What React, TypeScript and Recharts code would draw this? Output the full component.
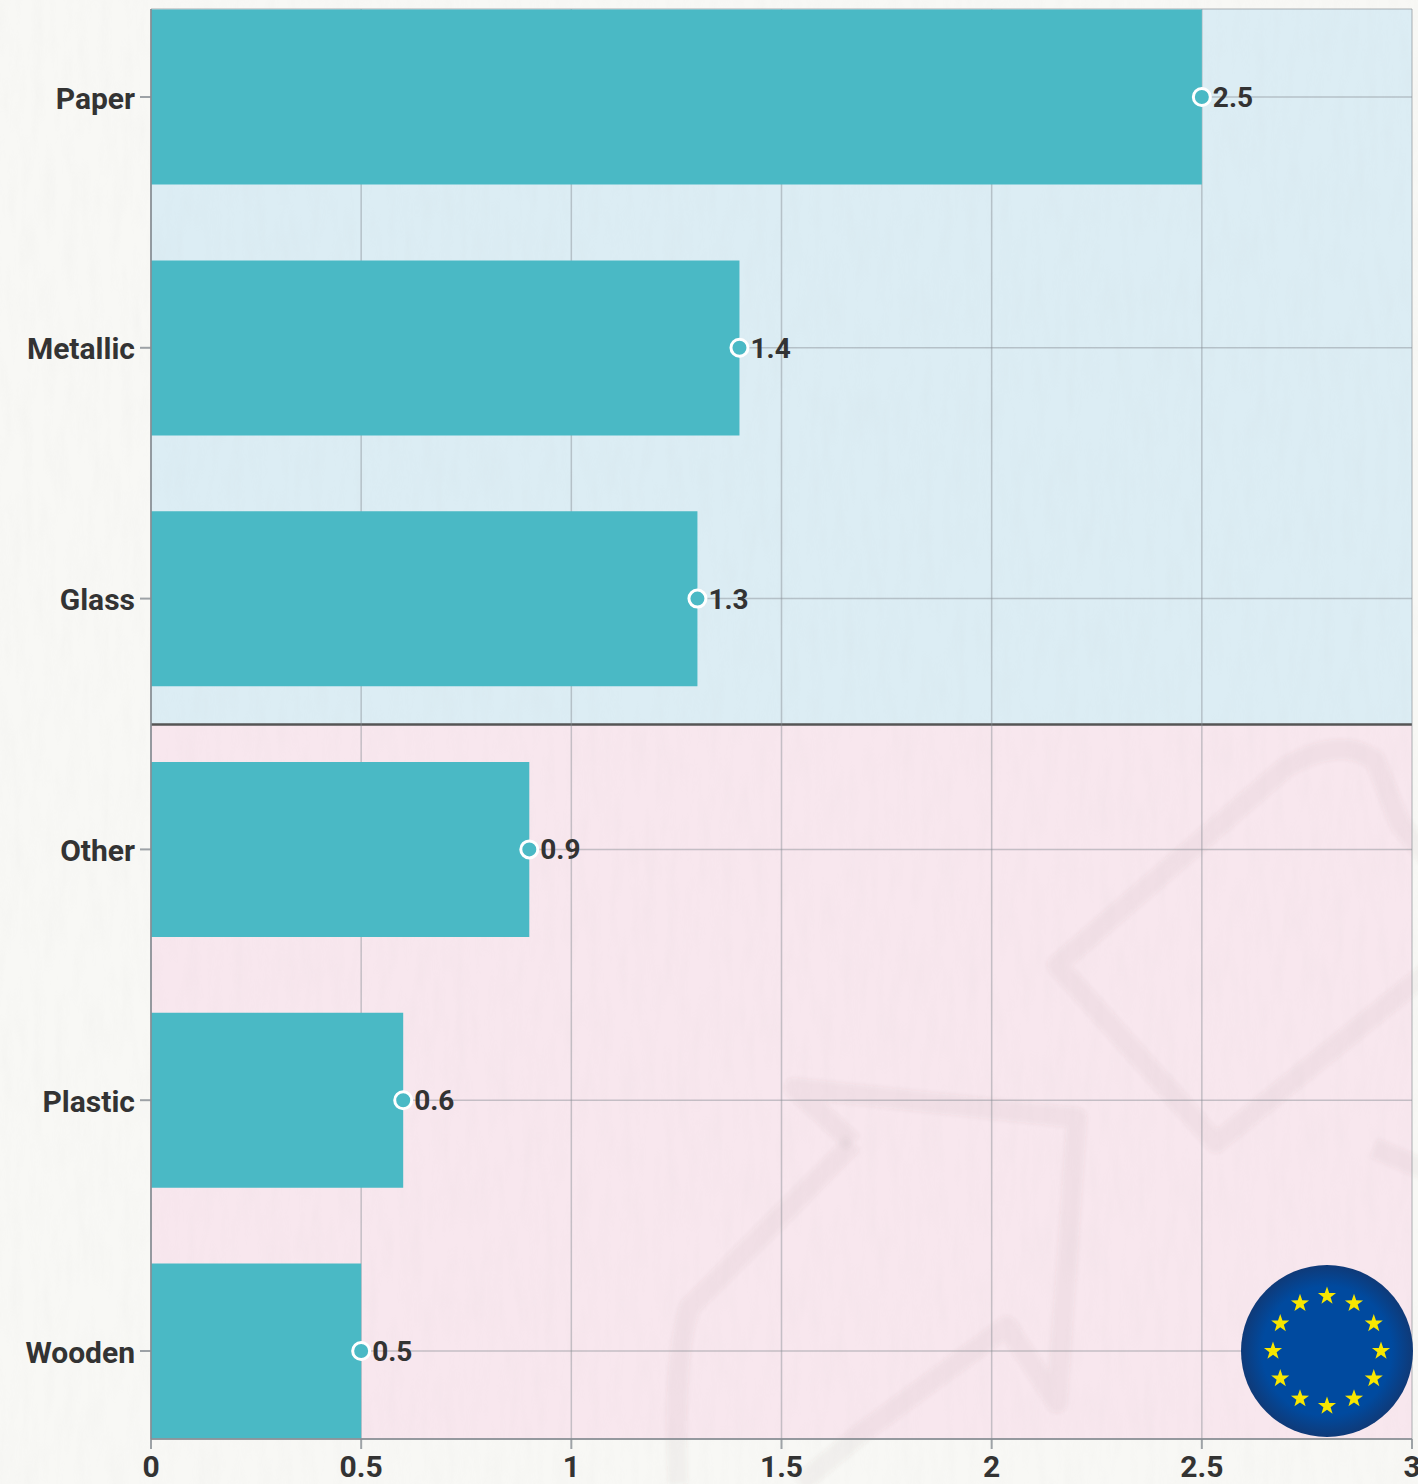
import { ComposedChart, Bar, Line, XAxis, YAxis, CartesianGrid, LabelList } from 'recharts'

const categories = ['Paper', 'Metallic', 'Glass', 'Other', 'Plastic', 'Wooden']
const values = [2.5, 1.4, 1.3, 0.9, 0.6, 0.5]
const xTicks = [0, 0.5, 1, 1.5, 2, 2.5, 3]

const rows = categories.map((name, i) => ({ name, value: values[i] }))

const FONT = 'Roboto, sans-serif'
const TEAL = '#4ab9c5'
const TEXT = '#333333'
const GRID = '#868c92'

function Flag() {
  const stars = Array.from({ length: 12 }, (_, i) => i * 30)
  const starPoints = Array.from({ length: 10 }, (_, i) => {
    const r = i % 2 === 0 ? 9.5 : 3.8
    const a = (i * 36 - 90) * (Math.PI / 180)
    return `${(r * Math.cos(a)).toFixed(2)},${(r * Math.sin(a)).toFixed(2)}`
  }).join(' ')
  return (
    <svg width={176} height={176} style={{ position: 'absolute', left: 1239, top: 1263 }}>
      <defs>
        <radialGradient id="flagFill">
          <stop offset="75%" stopColor="#004a9f" />
          <stop offset="100%" stopColor="#0f3a78" />
        </radialGradient>
      </defs>
      <circle cx={88} cy={88} r={86} fill="url(#flagFill)" />
      {stars.map((deg) => (
        <polygon
          key={deg}
          points={starPoints}
          fill="#f7e600"
          transform={`translate(${88 + 54 * Math.sin((deg * Math.PI) / 180)} ${88 - 55 * Math.cos((deg * Math.PI) / 180)})`}
        />
      ))}
    </svg>
  )
}

// plot background, paper grain and the faint watermark, all under the chart
function Backdrop() {
  return (
    <svg width={1418} height={1484} style={{ position: 'absolute', left: 0, top: 0 }}>
      <defs>
        <filter id="grain" x="0" y="0" width="100%" height="100%">
          <feTurbulence type="fractalNoise" baseFrequency="0.09 0.018" numOctaves={3} seed={4} />
          <feColorMatrix values="0 0 0 0 0.45  0 0 0 0 0.45  0 0 0 0 0.45  1.1 0 0 0 -0.42" />
        </filter>
        <filter id="soft">
          <feGaussianBlur stdDeviation={2} />
        </filter>
      </defs>
      <rect x={151} y={9} width={1261} height={715} fill="#dcedf4" />
      <rect x={151} y={724} width={1261} height={715} fill="#f8e7ee" />
      <g fill="none" stroke="#5a4a52" strokeOpacity={0.05} strokeWidth={20} strokeLinejoin="round" filter="url(#soft)">
        <path d="M1430 860 L1400 824 L1375 760 Q1340 735 1285 768 L1057 965 L1216 1143 L1430 970" />
        <path d="M853 1143 L794 1088 L1077 1118 L1057 1403 L1007 1326 L863 1432 L800 1484" />
        <path d="M853 1143 L690 1307 Q672 1360 678 1484" />
        <path d="M1374 1148 L1430 1172" />
      </g>
      <rect x={0} y={0} width={1418} height={1484} filter="url(#grain)" opacity={0.07} />
      <line x1={151} x2={1412} y1={724.5} y2={724.5} stroke="#555555" strokeWidth={2.5} />
    </svg>
  )
}

export default function App() {
  return (
    <div style={{ position: 'absolute', left: 0, top: 0, width: 1418, height: 1484, background: '#f8f8f5', overflow: 'hidden' }}>
      <Backdrop />
      <div style={{ position: 'absolute', left: 0, top: 0 }}>
        <ComposedChart
          width={1418}
          height={1484}
          data={rows}
          layout="vertical"
          margin={{ top: 9, right: 6, bottom: 0, left: 0 }}
        >
          <CartesianGrid stroke={GRID} strokeOpacity={0.45} strokeWidth={1.5} />
          <XAxis
            type="number"
            dataKey="value"
            domain={[0, 3]}
            ticks={xTicks}
            interval={0}
            height={45}
            tickSize={10}
            tickMargin={7}
            tick={{ fontSize: 30, fontWeight: 700, fill: TEXT, fontFamily: FONT }}
            axisLine={{ stroke: GRID, strokeOpacity: 0.8, strokeWidth: 2 }}
            tickLine={{ stroke: GRID, strokeOpacity: 0.8, strokeWidth: 2 }}
          />
          <YAxis
            type="category"
            dataKey="name"
            scale="point"
            padding={{ top: 88, bottom: 88 }}
            width={151}
            interval={0}
            tickSize={11}
            tickMargin={5}
            tick={{ fontSize: 30, fontWeight: 700, fill: TEXT, fontFamily: FONT, dy: 1 }}
            axisLine={{ stroke: GRID, strokeOpacity: 0.8, strokeWidth: 2 }}
            tickLine={{ stroke: GRID, strokeOpacity: 0.8, strokeWidth: 2 }}
          />
          <Bar dataKey="value" fill={TEAL} barSize={175} isAnimationActive={false} />
          <Line
            dataKey="value"
            stroke="none"
            dot={{ r: 8.5, fill: TEAL, stroke: '#ffffff', strokeWidth: 3 }}
            isAnimationActive={false}
          >
            <LabelList
              dataKey="value"
              position="right"
              offset={11}
              style={{ fontSize: 28, fontWeight: 700, fill: TEXT, fontFamily: FONT }}
            />
          </Line>
        </ComposedChart>
      </div>
      <Flag />
    </div>
  )
}
